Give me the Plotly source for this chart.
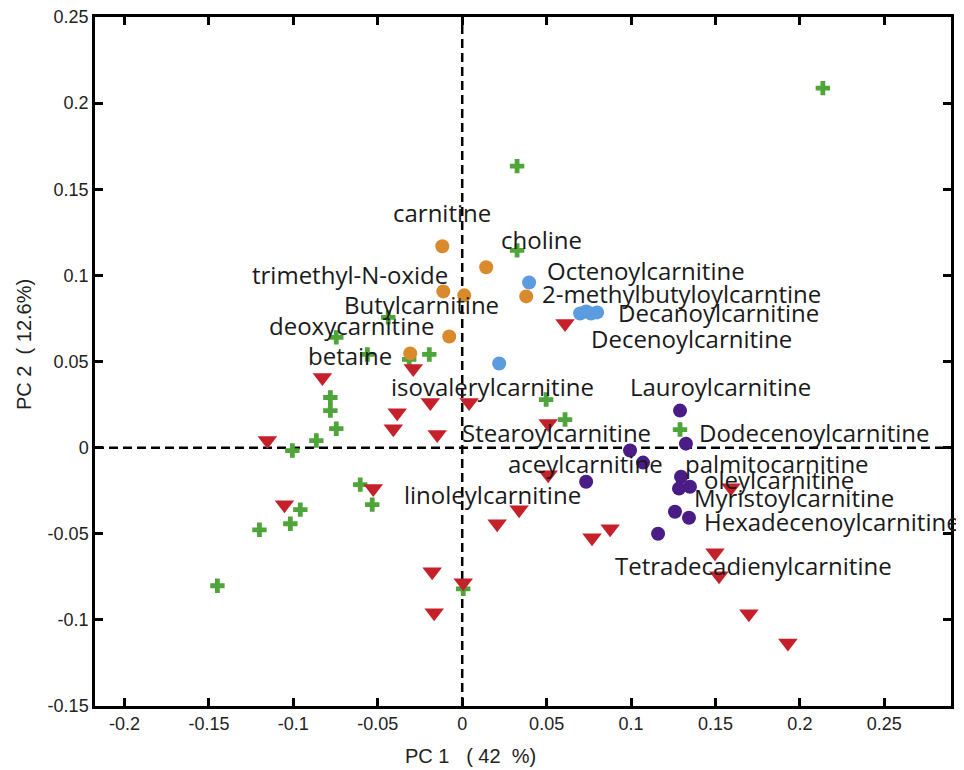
import plotly.graph_objects as go

# ---------------- data ----------------
orange_x = [-0.0118, 0.0142, -0.0112, 0.0012, 0.0379, -0.0077, -0.0308]
orange_y = [0.1169, 0.1047, 0.0907, 0.0884, 0.0878, 0.0645, 0.0547]

blue_x = [0.0396, 0.0698, 0.0734, 0.0763, 0.0799, 0.0219]
blue_y = [0.0959, 0.0779, 0.0791, 0.0779, 0.0785, 0.0488]

purple_x = [0.1290, 0.1325, 0.0994, 0.1071, 0.0734, 0.1296, 0.1284, 0.1349, 0.1260, 0.1343, 0.1160]
purple_y = [0.0215, 0.0023, -0.0017, -0.0087, -0.0198, -0.0169, -0.0238, -0.0227, -0.0372, -0.0407, -0.0500]

red_x = [0.0609, -0.0290, -0.0828, -0.1154, -0.0189, -0.0385, -0.0408, -0.0148, 0.0041,
         0.0509, 0.0509, -0.0527, -0.1053, 0.0337, 0.0207, 0.0876, 0.0769, 0.1592,
         0.1497, 0.1521, 0.1698, 0.1929, -0.0178, 0.0006, -0.0166]
red_y = [0.0721, 0.0459, 0.0407, 0.0041, 0.0262, 0.0203, 0.0110, 0.0076, 0.0262,
         0.0140, -0.0157, -0.0238, -0.0331, -0.0360, -0.0442, -0.0471, -0.0523, -0.0233,
         -0.0610, -0.0744, -0.0965, -0.1134, -0.0721, -0.0785, -0.0959]

green_x = [0.2136, 0.0325, 0.0325, -0.0438, -0.0746, -0.0562, -0.0314, -0.0195, -0.0781,
           -0.0781, -0.0746, -0.0864, -0.1006, -0.0604, -0.0533, -0.0959, -0.1018, -0.1201,
           -0.1450, 0.0497, 0.0609, 0.1290, 0.0006]
green_y = [0.2087, 0.1634, 0.1145, 0.0756, 0.0640, 0.0541, 0.0512, 0.0541, 0.0291,
           0.0215, 0.0110, 0.0041, -0.0017, -0.0215, -0.0331, -0.0360, -0.0442, -0.0477,
           -0.0802, 0.0279, 0.0163, 0.0105, -0.0820]

label_text = ["carnitine", "choline", "trimethyl-N-oxide", "Octenoylcarnitine",
              "2-methylbutyloylcarntine", "Butylcarnitine", "Decanoylcarnitine",
              "deoxycarnitine", "Decenoylcarnitine", "betaine", "isovalerylcarnitine",
              "Lauroylcarnitine", "Stearoylcarnitine", "Dodecenoylcarnitine",
              "aceylcarnitine", "palmitocarnitine", "oleylcarnitine", "linoleylcarnitine",
              "Myristoylcarnitine", "Hexadecenoylcarnitine", "Tetradecadienylcarnitine"]
label_x = [-0.0414, 0.0225, -0.1249, 0.0497, 0.0467, -0.0704, 0.0917, -0.1148, 0.0757,
           -0.0917, -0.0426, 0.0988, -0.0006, 0.1396, 0.0266, 0.1314, 0.1426, -0.0349,
           0.1367, 0.1426, 0.0899]
label_y = [0.1366, 0.1209, 0.1006, 0.1029, 0.0895, 0.0831, 0.0785, 0.0709, 0.0634,
           0.0535, 0.0355, 0.0355, 0.0087, 0.0087, -0.0093, -0.0093, -0.0186, -0.0273,
           -0.0291, -0.0430, -0.0686]

x_ticks = [-0.2, -0.15, -0.1, -0.05, 0, 0.05, 0.1, 0.15, 0.2, 0.25]
x_tick_text = ["-0.2", "-0.15", "-0.1", "-0.05", "0", "0.05", "0.1", "0.15", "0.2", "0.25"]
y_ticks = [-0.15, -0.1, -0.05, 0, 0.05, 0.1, 0.15, 0.2, 0.25]
y_tick_text = ["-0.15", "-0.1", "-0.05", "0", "0.05", "0.1", "0.15", "0.2", "0.25"]

x_title = "PC 1   ( 42  %)"
y_title = "PC 2  ( 12.6%)"

# ---------------- figure ----------------
# page body has an 8px margin, so the figure starts at (8, 8) on screen
W, H = 956, 762
L, R, T, B = 87, 13, 9, 64
PW, PH = W - L - R, H - T - B

def px_to_paper_x(sx):
    return (sx - 8 - L) / PW

def px_to_paper_y(sy):
    return (H - B - (sy - 8)) / PH

fig = go.Figure()

def add(xs, ys, color, symbol, size):
    fig.add_trace(go.Scatter(x=xs, y=ys, mode="markers", showlegend=False,
                             marker=dict(color=color, symbol=symbol, size=size,
                                         line=dict(width=0))))

add(green_x, green_y, "#4fa53a", "cross", 12)
add(red_x, red_y, "#c4212b", "triangle-down", 17)
add(orange_x, orange_y, "#d98a2c", "circle", 14)
add(blue_x, blue_y, "#5b9be0", "circle", 14)
add(purple_x, purple_y, "#4a1c86", "circle", 14)

# zero dashed lines
fig.add_shape(type="line", xref="x", yref="paper", x0=0, x1=0, y0=0, y1=1,
              line=dict(color="black", width=2.5, dash="9px,5px"), layer="below")
fig.add_shape(type="line", xref="paper", yref="y", x0=0, x1=1, y0=0, y1=0,
              line=dict(color="black", width=2.5, dash="9px,5px"), layer="below")

for t, x, y in zip(label_text, label_x, label_y):
    fig.add_annotation(x=x, y=y, text=t, showarrow=False, xanchor="left", yanchor="middle",
                       borderpad=0,
                       font=dict(family="Open Sans", size=24, color="#1a1a1a"))

fig.add_annotation(xref="paper", yref="paper", x=px_to_paper_x(470), y=px_to_paper_y(756),
                   text=x_title, showarrow=False, xanchor="center", yanchor="middle",
                   font=dict(family="Liberation Sans, Arial", size=20, color="#222"))
fig.add_annotation(xref="paper", yref="paper", x=px_to_paper_x(24), y=px_to_paper_y(345),
                   text=y_title, showarrow=False, textangle=-90, xanchor="center",
                   yanchor="middle",
                   font=dict(family="Liberation Sans, Arial", size=20, color="#222"))

axis_common = dict(showline=True, linecolor="black", linewidth=2.5, mirror="ticks",
                   ticks="inside", ticklen=8, tickwidth=2.5, tickcolor="black",
                   showgrid=False, zeroline=False, automargin=False,
                   ticklabeloverflow="allow",
                   tickfont=dict(family="Liberation Sans, Arial", size=18, color="#222"))

fig.update_xaxes(range=[-0.2175, 0.2895], tickvals=x_ticks, ticktext=x_tick_text,
                 **axis_common)
fig.update_yaxes(range=[-0.15, 0.25], tickvals=y_ticks, ticktext=y_tick_text,
                 **axis_common)

fig.update_layout(width=W, height=H,
                  margin=dict(l=L, r=R, t=T, b=B, autoexpand=False),
                  paper_bgcolor="white", plot_bgcolor="white")

fig.write_html("out.html")
